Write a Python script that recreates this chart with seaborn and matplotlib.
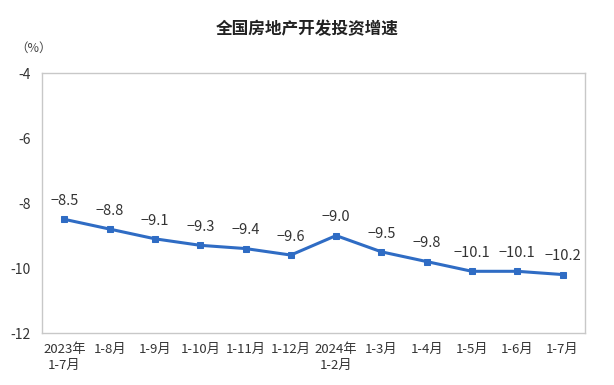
import numpy as np
import pandas as pd
import matplotlib.pyplot as plt
import seaborn as sns

# 全国房地产开发投资增速 (累计同比, %)
PERIODS = ["2023年\n1-7月", "1-8月", "1-9月", "1-10月", "1-11月", "1-12月",
           "2024年\n1-2月", "1-3月", "1-4月", "1-5月", "1-6月", "1-7月"]
GROWTH  = [-8.5, -8.8, -9.1, -9.3, -9.4, -9.6, -9.0, -9.5, -9.8, -10.1, -10.1, -10.2]
Y_TICKS = [-4, -6, -8, -10, -12]

LINE_COLOR = "#2f6cc4"
FRAME      = "#c8c8c8"

sns.set_style("white")
plt.rcParams["font.family"] = ["Noto Sans CJK SC", "DejaVu Sans"]

df = pd.DataFrame({"pos": np.arange(len(PERIODS)), "growth": GROWTH})

fig = plt.figure(figsize=(6.14, 3.85), dpi=100)
ax = fig.add_axes([0.068, 0.135, 0.885, 0.675])

sns.lineplot(data=df, x="pos", y="growth", ax=ax, color=LINE_COLOR,
             linewidth=2.2, marker="s", markersize=5,
             markeredgecolor=LINE_COLOR)

for x, v in zip(df["pos"], df["growth"]):
    ax.annotate(f"{v:.1f}".replace("-", "−"), (x, v), xytext=(0, 8),
                textcoords="offset points", ha="center", va="bottom",
                fontsize=10.5, color="#333333")

ax.set_xlim(-0.5, len(PERIODS) - 0.5)
ax.set_ylim(-12, -4)
ax.set_yticks(Y_TICKS)
ax.set_yticklabels([str(t) for t in Y_TICKS], fontsize=10, color="#333333")
ax.tick_params(axis="y", length=0, pad=8)

ax.set_xticks(np.arange(len(PERIODS)))
ax.set_xticklabels(PERIODS, fontsize=9.5, color="#333333", linespacing=1.3)
ax.tick_params(axis="x", which="major", length=0, pad=7)
ax.set_xticks(np.arange(len(PERIODS) - 1) + 0.5, minor=True)
ax.tick_params(axis="x", which="minor", direction="in", length=5,
               color=FRAME, width=1)

ax.set_xlabel(""); ax.set_ylabel("")
for s in ax.spines.values():
    s.set_color(FRAME); s.set_linewidth(1)

fig.text(0.5, 0.925, "全国房地产开发投资增速", ha="center", va="center",
         fontsize=12, fontweight="bold", color="#222222")
fig.text(0.025, 0.875, "（%）", ha="left", va="center", fontsize=9,
         color="#444444")

plt.savefig("out.png", dpi=100)
